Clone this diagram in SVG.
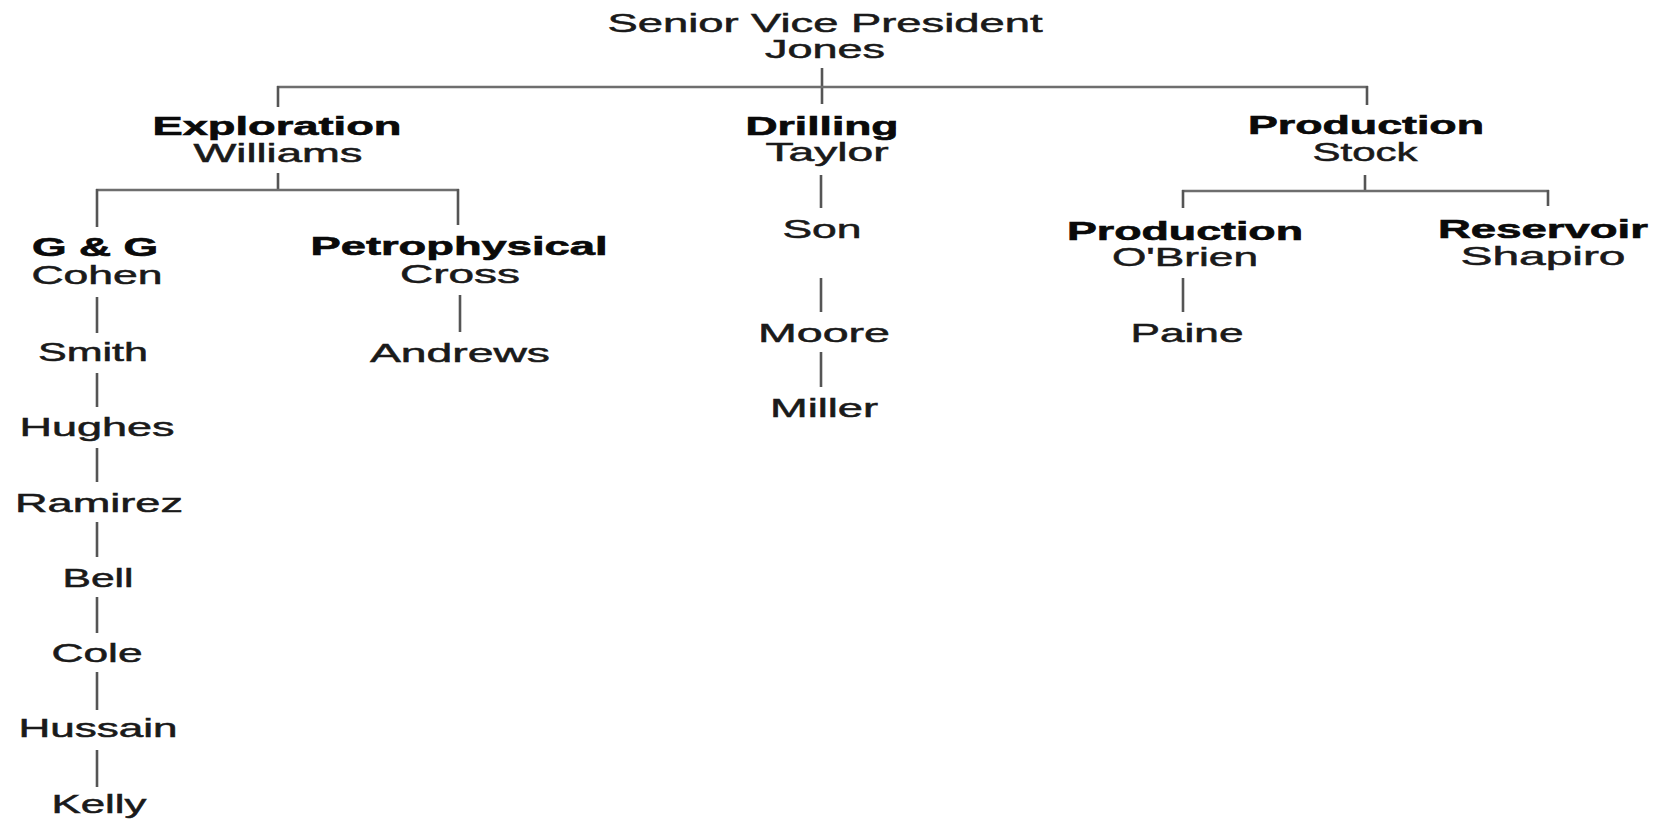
<svg xmlns="http://www.w3.org/2000/svg" width="1665" height="821" viewBox="0 0 1665 821">
  <style>
    text { font-family: "Liberation Sans", Arial, Helvetica, sans-serif; font-size: 25px; text-anchor: middle; fill: #1a1a1a; stroke: #1a1a1a; stroke-width: 0.5; }
    .title { font-weight: bold; fill: #0a0a0a; stroke: #0a0a0a; stroke-width: 0.6; }
    .conn line { stroke: #555; stroke-width: 2.6; stroke-linecap: butt; }
    .conn .h { stroke: #6e6e6e; }
  </style>
  <rect width="1665" height="821" fill="#ffffff"/>

  <!-- reporting lines -->
  <g id="connectors" class="conn">
    <!-- top level -->
    <line x1="822" y1="68" x2="822" y2="104"/>
    <line class="h" x1="277" y1="87" x2="1368" y2="87"/>
    <line x1="278" y1="86" x2="278" y2="107"/>
    <line x1="1367" y1="86" x2="1367" y2="105"/>
    <!-- exploration -->
    <line x1="278" y1="173" x2="278" y2="191"/>
    <line class="h" x1="96" y1="190" x2="459" y2="190"/>
    <line x1="97" y1="189" x2="97" y2="227"/>
    <line x1="458" y1="189" x2="458" y2="225"/>
    <!-- G & G chain -->
    <line x1="97" y1="297" x2="97" y2="333"/>
    <line x1="97" y1="373" x2="97" y2="407"/>
    <line x1="97" y1="448" x2="97" y2="482"/>
    <line x1="97" y1="522" x2="97" y2="557"/>
    <line x1="97" y1="597" x2="97" y2="633"/>
    <line x1="97" y1="672" x2="97" y2="710"/>
    <line x1="97" y1="750" x2="97" y2="787"/>
    <!-- petrophysical -->
    <line x1="460" y1="295" x2="460" y2="332"/>
    <!-- drilling chain -->
    <line x1="821" y1="175" x2="821" y2="208"/>
    <line x1="821" y1="278" x2="821" y2="312"/>
    <line x1="821" y1="352" x2="821" y2="387"/>
    <!-- production -->
    <line x1="1365" y1="175" x2="1365" y2="192"/>
    <line class="h" x1="1182" y1="191" x2="1549" y2="191"/>
    <line x1="1183" y1="190" x2="1183" y2="208"/>
    <line x1="1548" y1="190" x2="1548" y2="206"/>
    <line x1="1183" y1="278" x2="1183" y2="312"/>
  </g>

  <g id="svp">
    <text x="825" y="32" textLength="435" lengthAdjust="spacingAndGlyphs">Senior Vice President</text>
    <text x="825" y="58" textLength="120" lengthAdjust="spacingAndGlyphs">Jones</text>
  </g>

  <g id="exploration">
    <text class="title" x="277" y="135" textLength="249" lengthAdjust="spacingAndGlyphs">Exploration</text>
    <text x="278" y="162" textLength="169" lengthAdjust="spacingAndGlyphs">Williams</text>
  </g>
  <g id="drilling">
    <text class="title" x="822" y="135" textLength="153" lengthAdjust="spacingAndGlyphs">Drilling</text>
    <text x="827" y="161" textLength="123" lengthAdjust="spacingAndGlyphs">Taylor</text>
  </g>
  <g id="production">
    <text class="title" x="1366" y="134" textLength="236" lengthAdjust="spacingAndGlyphs">Production</text>
    <text x="1365" y="161" textLength="105" lengthAdjust="spacingAndGlyphs">Stock</text>
  </g>

  <g id="gg">
    <text class="title" x="95" y="256" textLength="126" lengthAdjust="spacingAndGlyphs">G &amp; G</text>
    <text x="97" y="284" textLength="131" lengthAdjust="spacingAndGlyphs">Cohen</text>
  </g>
  <g id="petrophysical">
    <text class="title" x="459" y="255" textLength="297" lengthAdjust="spacingAndGlyphs">Petrophysical</text>
    <text x="460" y="283" textLength="120" lengthAdjust="spacingAndGlyphs">Cross</text>
  </g>
  <g id="production-sub">
    <text class="title" x="1185" y="240" textLength="236" lengthAdjust="spacingAndGlyphs">Production</text>
    <text x="1185" y="266" textLength="146" lengthAdjust="spacingAndGlyphs">O'Brien</text>
  </g>
  <g id="reservoir">
    <text class="title" x="1543" y="238" textLength="210" lengthAdjust="spacingAndGlyphs">Reservoir</text>
    <text x="1543" y="265" textLength="165" lengthAdjust="spacingAndGlyphs">Shapiro</text>
  </g>

  <g id="smith"><text x="93" y="361" textLength="110" lengthAdjust="spacingAndGlyphs">Smith</text></g>
  <g id="hughes"><text x="97" y="436" textLength="155" lengthAdjust="spacingAndGlyphs">Hughes</text></g>
  <g id="ramirez"><text x="99" y="512" textLength="168" lengthAdjust="spacingAndGlyphs">Ramirez</text></g>
  <g id="bell"><text x="98" y="587" textLength="71" lengthAdjust="spacingAndGlyphs">Bell</text></g>
  <g id="cole"><text x="97" y="662" textLength="91" lengthAdjust="spacingAndGlyphs">Cole</text></g>
  <g id="hussain"><text x="98" y="737" textLength="159" lengthAdjust="spacingAndGlyphs">Hussain</text></g>
  <g id="kelly"><text x="99" y="813" textLength="95" lengthAdjust="spacingAndGlyphs">Kelly</text></g>

  <g id="andrews"><text x="460" y="362" textLength="180" lengthAdjust="spacingAndGlyphs">Andrews</text></g>

  <g id="son"><text x="822" y="238" textLength="79" lengthAdjust="spacingAndGlyphs">Son</text></g>
  <g id="moore"><text x="824" y="342" textLength="132" lengthAdjust="spacingAndGlyphs">Moore</text></g>
  <g id="miller"><text x="824" y="417" textLength="108" lengthAdjust="spacingAndGlyphs">Miller</text></g>

  <g id="paine"><text x="1187" y="342" textLength="113" lengthAdjust="spacingAndGlyphs">Paine</text></g>
</svg>
